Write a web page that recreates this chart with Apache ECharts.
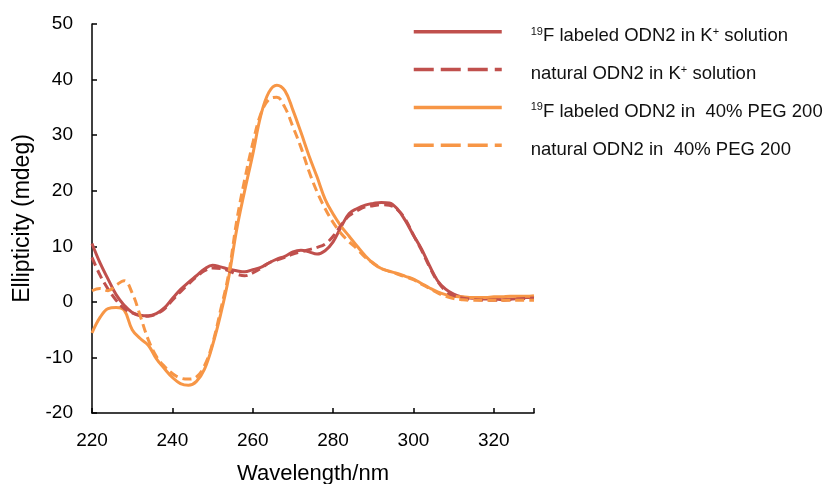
<!DOCTYPE html>
<html>
<head>
<meta charset="utf-8">
<script src="https://cdn.jsdelivr.net/npm/echarts@6/dist/echarts.min.js"></script>
<style>html,body{margin:0;padding:0;background:#fff;}#c{width:828px;height:484px;}</style>
</head>
<body>
<div id="c"></div>
<script>
const wavelengths = [220,222,224,226,228,230,232,234,236,238,240,242,244,246,248,250,252,254,256,258,260,262,264,266,268,270,272,274,276,278,280,282,284,286,288,290,292,294,296,298,300,302,304,306,308,310,312,314,316,318,320,322,324,326,328,330];

const labeledK = [10.5,7.0,4.1,1.3,-0.6,-1.9,-2.4,-2.5,-2.1,-1.1,0.6,2.2,3.5,4.7,5.9,6.6,6.3,5.9,5.6,5.4,5.8,6.2,7.0,7.7,8.2,9.0,9.3,9.0,8.6,9.2,10.8,13.5,15.9,16.8,17.4,17.7,17.9,17.8,16.7,14.6,12.0,9.5,6.5,3.8,2.3,1.4,0.9,0.7,0.6,0.5,0.5,0.4,0.5,0.6,0.8,0.8];

const naturalK = [8.0,4.8,2.3,0.3,-1.2,-2.0,-2.5,-2.6,-2.2,-1.3,0.3,1.8,3.2,4.5,5.6,6.1,6.0,5.6,5.0,4.7,5.2,6.0,7.0,7.5,8.0,8.6,9.0,9.4,9.8,10.4,11.8,13.8,15.5,16.4,17.1,17.3,17.5,17.4,16.6,14.8,12.0,9.3,6.3,3.7,2.0,1.1,0.7,0.5,0.4,0.3,0.3,0.3,0.4,0.5,0.6,0.7];

const labeledPEG = [-5.6,-2.8,-1.2,-1.0,-1.5,-5.0,-6.6,-7.8,-10.2,-12.0,-13.6,-14.7,-15.0,-14.3,-12.1,-7.8,-2.3,4.3,13.0,20.0,26.5,33.5,37.7,39.0,38.0,34.5,30.5,26.3,22.5,18.5,15.8,13.6,11.8,10.0,8.3,6.9,6.0,5.5,5.1,4.6,4.1,3.3,2.5,1.8,1.3,1.0,0.9,0.8,0.8,0.8,0.9,0.9,1.0,1.0,1.0,1.1];

const naturalPEG = [2.0,2.4,2.0,3.0,3.8,1.6,-2.5,-6.8,-9.8,-11.6,-12.9,-13.7,-13.9,-13.5,-11.5,-7.5,-1.5,5.0,14.5,22.0,28.5,33.8,36.4,36.8,35.0,31.5,27.8,23.5,19.8,16.8,14.3,12.3,10.8,9.5,8.0,7.0,6.0,5.5,5.0,4.5,4.0,3.2,2.4,1.6,1.0,0.6,0.4,0.3,0.3,0.3,0.3,0.3,0.3,0.3,0.3,0.3];

const legendTexts = {
  labeledK: '{sup|19}{n|F labeled ODN2 in K}{sup|+}{n| solution}',
  naturalK: '{n|natural ODN2 in K}{sup|+}{n| solution}',
  labeledPEG: '{sup|19}{n|F labeled ODN2 in  40% PEG 200}',
  naturalPEG: '{n|natural ODN2 in  40% PEG 200}'
};
const xTicks = [220,240,260,280,300,320];
const yTicks = [-20,-10,0,10,20,30,40,50];

const RED = '#C0504D', ORANGE = '#F79646';
const FONT = 'Liberation Sans, Arial, sans-serif';
const pair = arr => wavelengths.map((w,i)=>[w,arr[i]]);

function mk(name, arr, color, dashed){
  return {
    name, type:'line', data: pair(arr), smooth: 0.4, symbol:'none',
    lineStyle:{color, width:3, type: dashed ? [9,5] : 'solid'},
    itemStyle:{color},
    z: dashed ? 3 : 2
  };
}

const chart = echarts.init(document.getElementById('c'), null, {renderer:'canvas'});
chart.setOption({
  animation:false,
  backgroundColor:'#fff',
  grid:{left:92, right:294, top:24, bottom:71, containLabel:false, outerBoundsMode:'none'},
  xAxis:{
    type:'value', min:220, max:330, interval:20,
    axisLine:{onZero:false, lineStyle:{color:'#000', width:1.5}},
    axisTick:{inside:true, length:5, lineStyle:{color:'#000', width:1.5}},
    axisLabel:{fontFamily:FONT, fontSize:19, color:'#000', margin:18,
      formatter: v => xTicks.includes(v) ? String(v) : ''},
    splitLine:{show:false},
    name:'Wavelength/nm', nameLocation:'middle', nameGap:50,
    nameTextStyle:{fontFamily:FONT, fontSize:22, color:'#000'}
  },
  yAxis:{
    type:'value', min:-20, max:50, interval:10,
    axisLine:{show:true, onZero:false, lineStyle:{color:'#000', width:1.5}},
    axisTick:{show:true, inside:true, length:5, lineStyle:{color:'#000', width:1.5}},
    axisLabel:{fontFamily:FONT, fontSize:19, color:'#000', margin:19,
      formatter: v => yTicks.includes(v) ? String(v) : ''},
    splitLine:{show:false},
    name:'Ellipticity (mdeg)', nameLocation:'middle', nameGap:57, nameRotate:90,
    nameTextStyle:{fontFamily:FONT, fontSize:23, color:'#000'}
  },
  legend:{
    orient:'vertical', left:412, top:19, padding:0, itemWidth:88, itemHeight:32, itemGap:11,
    itemStyle:{opacity:0},
    data:[
      {name:'labeledK', lineStyle:{width:3.5}},
      {name:'naturalK', lineStyle:{width:3.5, type:[20,7]}},
      {name:'labeledPEG', lineStyle:{width:3.5}},
      {name:'naturalPEG', lineStyle:{width:3.5, type:[20,7]}}
    ],
    formatter: n => legendTexts[n],
    textStyle:{
      padding:[0,0,0,24],
      rich:{
        n:{fontFamily:FONT, fontSize:18.5, color:'#111', lineHeight:28, verticalAlign:'bottom'},
        sup:{fontFamily:FONT, fontSize:11, color:'#111', lineHeight:28, verticalAlign:'middle'}
      }
    }
  },
  series:[
    mk('labeledK', labeledK, RED, false),
    mk('naturalK', naturalK, RED, true),
    mk('labeledPEG', labeledPEG, ORANGE, false),
    mk('naturalPEG', naturalPEG, ORANGE, true)
  ]
});
</script>
</body>
</html>
